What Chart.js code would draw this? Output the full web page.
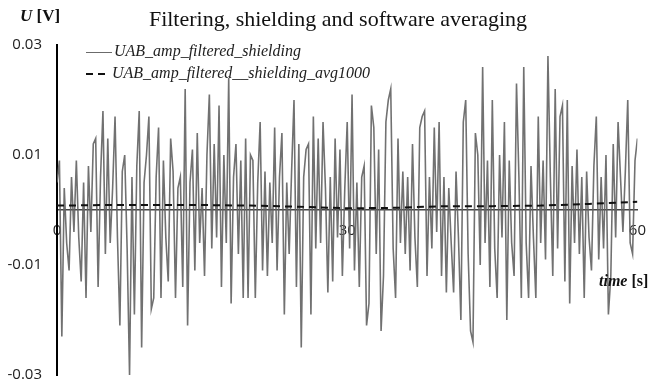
<!DOCTYPE html>
<html>
<head>
<meta charset="utf-8">
<script src="https://cdn.jsdelivr.net/npm/chart.js@4/dist/chart.umd.min.js"></script>
<style>
body { margin: 0; background: #fff; }
#wrap { position: relative; width: 658px; height: 383px; }
.lbl { position: absolute; font-family: "Liberation Serif", "Times New Roman", serif; color: #111; white-space: nowrap; }
#title { left: 0; width: 676px; top: 6px; text-align: center; font-size: 22px; }
#ylab { left: 20px; top: 6px; font-size: 17px; font-weight: bold; }
#xlab { left: 599px; top: 272px; font-size: 16px; font-weight: bold; }
.leg { left: 86px; font-size: 16px; font-style: italic; color: #222; }
.sw { display: inline-block; vertical-align: middle; margin-right: 2px; }
</style>
</head>
<body>
<div id="wrap">
<canvas id="myChart" width="658" height="383"></canvas>
<div class="lbl" id="title">Filtering, shielding and software averaging</div>
<div class="lbl" id="ylab"><i>U</i> [V]</div>
<div class="lbl" id="xlab"><i>time</i> [s]</div>
<div class="lbl leg" style="top:42px"><span class="sw" style="width:26px;border-top:1.5px solid #6b6b6b"></span>UAB_amp_filtered_shielding</div>
<div class="lbl leg" style="top:64px"><span class="sw" style="width:24px;height:2px;background:repeating-linear-gradient(90deg,#111 0 7px,transparent 7px 12px)"></span>UAB_amp_filtered__shielding_avg1000</div>
</div>
<script>
var chartField = document.querySelector("#myChart").getContext("2d")

// raw signal, one sample every 0.25 s from 0 to 60 s
var sampleStep = 0.25
var rawValues = [
 0.005, 0.009, -0.023, 0.004, -0.006, -0.011, 0.006, -0.004, 0.009, -0.005,
 -0.013, 0.005, -0.016, 0.008, -0.004, 0.012, 0.013, -0.014, 0.006, 0.018,
 -0.008, 0.013, -0.006, 0.004, 0.017, -0.005, -0.021, 0.007, 0.010, -0.007,
 -0.030, 0.006, -0.019, 0.008, 0.018, -0.025, 0.005, 0.010, 0.017, -0.018,
 -0.016, 0.006, 0.015, -0.016, 0.009, -0.005, -0.013, 0.013, 0.007, -0.016,
 0.004, 0.006, -0.014, 0.022, -0.021, 0.005, 0.011, -0.011, 0.014, -0.006,
 0.004, -0.012, 0.010, 0.021, -0.007, 0.012, -0.005, 0.019, -0.014, 0.010,
 -0.006, 0.024, -0.017, 0.006, 0.012, -0.008, 0.009, -0.016, 0.013, -0.016,
 0.010, 0.009, -0.016, 0.005, 0.016, -0.011, 0.007, -0.012, 0.005, -0.006,
 0.015, -0.011, 0.006, 0.014, -0.019, 0.005, -0.008, 0.007, 0.020, -0.014,
 0.012, -0.025, 0.006, 0.011, 0.012, -0.019, 0.017, -0.007, 0.013, -0.006,
 0.016, 0.004, -0.015, 0.006, -0.013, 0.013, -0.005, 0.011, -0.012, 0.004,
 0.016, -0.007, 0.021, -0.011, 0.005, -0.014, 0.006, 0.008, -0.021, -0.017,
 0.019, 0.015, -0.008, 0.011, -0.022, -0.012, 0.016, 0.020, 0.022, -0.007,
 -0.016, 0.013, -0.006, 0.007, -0.008, 0.006, -0.011, 0.012, -0.005, -0.014,
 0.015, 0.017, 0.018, -0.012, 0.006, -0.007, 0.015, -0.004, 0.016, -0.012,
 0.006, -0.015, 0.004, -0.006, -0.015, 0.007, -0.005, -0.020, 0.016, 0.020,
 -0.008, -0.022, -0.024, 0.014, 0.010, -0.010, 0.026, -0.006, 0.009, -0.014,
 0.020, -0.007, -0.016, 0.010, -0.005, 0.016, -0.020, 0.009, -0.006, -0.012,
 0.023, 0.006, -0.016, 0.026, -0.006, -0.016, 0.008, -0.005, -0.016, 0.017,
 -0.006, 0.009, -0.009, 0.028, 0.006, -0.012, 0.022, -0.007, 0.017, 0.019,
 -0.013, 0.020, -0.017, 0.008, -0.006, 0.011, -0.008, 0.006, -0.016, 0.007,
 -0.005, -0.011, 0.008, 0.017, -0.009, 0.006, -0.007, 0.010, -0.019, -0.012,
 0.012, -0.005, 0.016, 0.006, -0.004, 0.007, 0.020, -0.006, -0.008, 0.009,
 0.013
]

// averaged signal (avg1000)
var avgTimes = [0, 5, 10, 15, 20, 25, 30, 35, 40, 45, 50, 55, 60]
var avgValues = [0.0008, 0.0009, 0.0009, 0.0009, 0.0008, 0.0006, 0.0003, 0.0004, 0.0007, 0.0007, 0.0008, 0.0011, 0.0015]

var yTicks = [-0.03, -0.01, 0.01, 0.03]

var rawData = rawValues.map(function(v, i){ return {x: i * sampleStep, y: v} })
var avgData = avgValues.map(function(v, i){ return {x: avgTimes[i], y: v} })

var tickFont = {family: "'Open Sans', sans-serif", size: 15}

var myChart = new Chart(chartField, {
type: 'line',
data: {
datasets: [{
    label: 'UAB_amp_filtered_shielding',
    data: rawData,
    borderColor: 'rgba(98,98,98,0.9)',
    borderWidth: 1.6,
    pointRadius: 0,
    tension: 0,
    order: 1
}, {
    label: 'UAB_amp_filtered__shielding_avg1000',
    data: avgData,
    borderColor: '#111',
    borderWidth: 2,
    borderDash: [7, 5],
    pointRadius: 0,
    tension: 0,
    order: 0
}]
},
options: {
    responsive: false,
    animation: false,
    layout: {padding: {top: 45, bottom: 8, right: 16, left: 0}},
    plugins: {legend: {display: false}, tooltip: {enabled: false}},
    scales: {
        x: {
            type: 'linear',
            position: {y: 0},
            min: 0, max: 60,
            afterFit: function(scale){ scale.height = 0 },
            grid: {display: false, drawTicks: false},
            border: {color: '#444', width: 1.5},
            ticks: {stepSize: 30, padding: 12, font: tickFont, color: '#222', maxRotation: 0}
        },
        y: {
            min: -0.03, max: 0.03,
            afterFit: function(scale){
                scale.width = 57
                scale.paddingTop = 0
                scale.paddingBottom = 0
            },
            afterBuildTicks: function(scale){ scale.ticks = yTicks.map(function(v){ return {value: v} }) },
            grid: {display: false, drawTicks: false},
            border: {color: '#000', width: 2},
            ticks: {padding: 15, font: tickFont, color: '#222',
                callback: function(v){ return v.toFixed(2) }}
        }
    }
}
})
</script>
</body>
</html>
